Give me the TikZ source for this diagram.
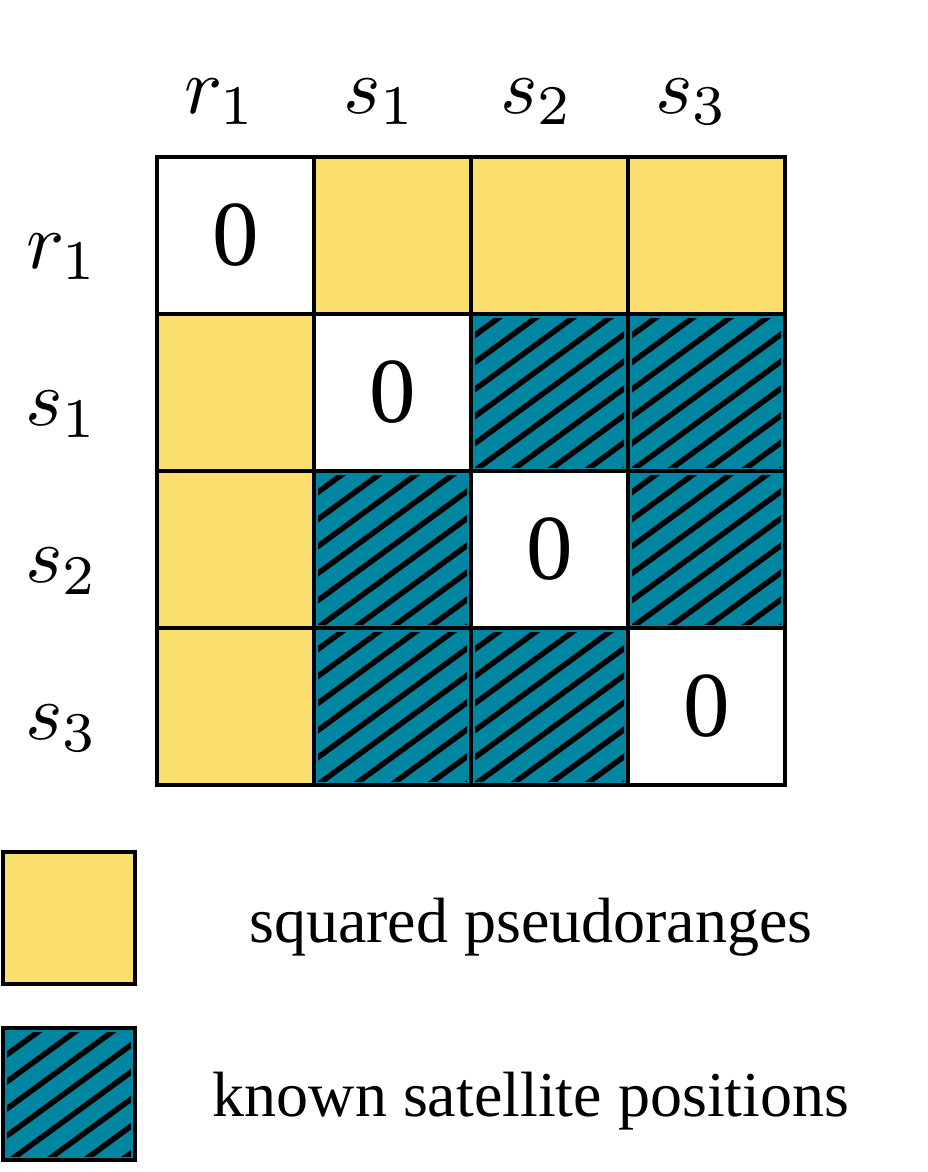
\documentclass[tikz,border=0pt]{standalone}
\usepackage{fontspec}
\setmainfont{Liberation Serif}
\usetikzlibrary{positioning}
\definecolor{rangeyellow}{RGB}{250,222,110}
\definecolor{satteal}{RGB}{0,134,160}

\begin{document}
\begin{tikzpicture}[
  x=1pt, y=-1pt,
  cell/.style={draw, line width=4pt, minimum size=157pt, inner sep=0pt, outer sep=0pt,
    font=\fontsize{93}{100}\selectfont},
  rangecell/.style={cell, fill=rangeyellow},
  knowncell/.style={cell, fill=satteal, path picture={
    \clip ([shift={(4pt,4pt)}]path picture bounding box.south west)
      rectangle ([shift={(-4pt,-4pt)}]path picture bounding box.north east);
    \foreach \k in {-5,...,5}
      \draw[line width=5.5pt] (path picture bounding box.center) ++(\k*37pt-5pt-130pt,-95pt) -- ++(260pt,190pt);
  }},
  lbl/.style={anchor=base, scale=8, inner sep=0pt},
  keytext/.style={anchor=base, font=\fontsize{64}{70}\selectfont}
]
\useasboundingbox (0,0) rectangle (927,1172);

% matrix cells
\node[cell] (r1r1) at (235.5,235.5) {0};
\node[rangecell, right=0pt of r1r1] (r1s1) {};
\node[rangecell, right=0pt of r1s1] (r1s2) {};
\node[rangecell, right=0pt of r1s2] (r1s3) {};

\node[rangecell, below=0pt of r1r1] (s1r1) {};
\node[cell, right=0pt of s1r1] (s1s1) {0};
\node[knowncell, right=0pt of s1s1] (s1s2) {};
\node[knowncell, right=0pt of s1s2] (s1s3) {};

\node[rangecell, below=0pt of s1r1] (s2r1) {};
\node[knowncell, right=0pt of s2r1] (s2s1) {};
\node[cell, right=0pt of s2s1] (s2s2) {0};
\node[knowncell, right=0pt of s2s2] (s2s3) {};

\node[rangecell, below=0pt of s2r1] (s3r1) {};
\node[knowncell, right=0pt of s3r1] (s3s1) {};
\node[knowncell, right=0pt of s3s1] (s3s2) {};
\node[cell, right=0pt of s3s2] (s3s3) {0};

% column and row labels
\node[lbl] (colr1) at (220,113) {$r_1$};
\node[lbl] (cols1) at (380,113) {$s_1$};
\node[lbl] (cols2) at (537,113) {$s_2$};
\node[lbl] (cols3) at (692,113) {$s_3$};
\node[lbl] (rowr1) at (62,268) {$r_1$};
\node[lbl] (rows1) at (62,425) {$s_1$};
\node[lbl] (rows2) at (62,582) {$s_2$};
\node[lbl] (rows3) at (62,739) {$s_3$};

% legend
\node[rangecell, minimum size=132pt] (keyrange) at (69,918) {};
\node[knowncell, minimum size=132pt] (keyknown) at (69,1094) {};
\node[keytext] (keyrangetext) at (531,942) {squared pseudoranges};
\node[keytext] (keyknowntext) at (531,1116) {known satellite positions};
\end{tikzpicture}
\end{document}
